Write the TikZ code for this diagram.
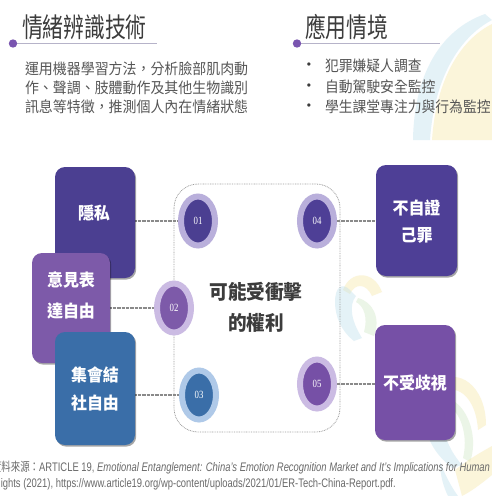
\documentclass[tikz,border=0pt]{standalone}
\usepackage{fontspec}
\setmainfont{Liberation Sans}
\newfontfamily\cjk{Noto Sans CJK TC}
\newfontfamily\numfont{Liberation Serif}
\usetikzlibrary{shapes.geometric,shadows,backgrounds}

\definecolor{indigoA}{HTML}{4B3F91}
\definecolor{purpleA}{HTML}{7D5AA9}
\definecolor{blueA}{HTML}{3A6EA8}
\definecolor{indigoB}{HTML}{4E3F96}
\definecolor{purpleB}{HTML}{7650A6}
\definecolor{ringIndigo}{HTML}{B9AFDB}
\definecolor{ringPurple}{HTML}{CBBBE3}
\definecolor{ringBlue}{HTML}{AFC9E8}
\definecolor{titlegray}{HTML}{3C3C3C}
\definecolor{bodygray}{HTML}{565656}
\definecolor{rulegray}{HTML}{B6B3C9}
\definecolor{dotpurple}{HTML}{7A55B0}
\definecolor{linkgray}{HTML}{8A8A8A}
\definecolor{notegray}{HTML}{6A6A6A}
\definecolor{wmyellow}{HTML}{F6E6A4}
\definecolor{wmblue}{HTML}{BDE0EC}
\definecolor{wmgreen}{HTML}{CFE7C4}

\newcommand\narrow[2]{\scalebox{#1}[1]{#2}}

\begin{document}
\begin{tikzpicture}[x=1pt,y=-1pt,
  every node/.style={inner sep=0pt, outer sep=0pt},
  headline/.style={anchor=west, text=titlegray, font=\cjk\fontsize{27}{30}\selectfont},
  bodyline/.style={anchor=west, text=bodygray, font=\cjk\fontsize{15}{17}\selectfont},
  bulletmark/.style={text=titlegray, font=\fontsize{12}{12}\selectfont},
  rbox/.style={rectangle, rounded corners=10pt, minimum width=80pt,
    drop shadow={shadow xshift=1.2pt, shadow yshift=-1.6pt, fill=black, opacity=.35}},
  boxtext/.style={text=white, font=\cjk\bfseries\fontsize{17}{20}\selectfont},
  ring/.style={ellipse, minimum width=34pt, minimum height=49pt, line width=6pt, text=white,
    font=\numfont\fontsize{11}{11}\selectfont},
  link/.style={draw=linkgray, line width=1.3pt, dash pattern=on 0.7pt off 0.6pt},
  frame/.style={draw=linkgray!85, line width=0.8pt, dash pattern=on 0.8pt off 0.9pt, rounded corners=24pt},
  rule/.style={draw=rulegray, line width=1.8pt},
  wm/.style={opacity=.4},
  note/.style={text=notegray, font=\fontsize{12.4}{14}\selectfont},
]
\useasboundingbox (0,0) rectangle (492,496);
\clip (0,0) rectangle (492,496);

% --- headings with their rules ---
\node[headline] (h1) at (22,27) {\narrow{0.77}{情緒辨識技術}};
\draw[rule] (13,43.5) -- (157,43.5);
\fill[dotpurple] (13,43.5) circle (4.2pt);
\node[bodyline] (b1) at (25,69) {\narrow{0.93}{運用機器學習方法，分析臉部肌肉動}};
\node[bodyline] (b2) at (25,88) {\narrow{0.93}{作、聲調、肢體動作及其他生物識別}};
\node[bodyline] (b3) at (25,107) {\narrow{0.93}{訊息等特徵，推測個人內在情緒狀態}};

\node[headline] (h2) at (305,27) {\narrow{0.77}{應用情境}};
\draw[rule] (297,43.5) -- (440,43.5);
\fill[dotpurple] (297,43.5) circle (4.2pt);
\node[bulletmark] (d1) at (309,66) {•};
\node[bulletmark] (d2) at (309,87) {•};
\node[bulletmark] (d3) at (309,107) {•};
\node[bodyline] (u1) at (325,66) {\narrow{0.92}{犯罪嫌疑人調查}};
\node[bodyline] (u2) at (325,87) {\narrow{0.92}{自動駕駛安全監控}};
\node[bodyline] (u3) at (325,107) {\narrow{0.92}{學生課堂專注力與行為監控}};

% --- rights boxes (stacked on the left) ---
\node[rbox, fill=indigoA, minimum height=111pt] (privacy) at (95,222.5) {};
\node[boxtext] (privacy-t) at (94,213) {\narrow{0.94}{隱私}};

\node[rbox, fill=purpleA, minimum width=78pt, minimum height=110pt] (speech) at (71,308) {};
\node[boxtext] (speech-t1) at (71,280) {\narrow{0.94}{意見表}};
\node[boxtext] (speech-t2) at (71,311) {\narrow{0.94}{達自由}};

\node[rbox, fill=blueA, minimum height=113pt] (assembly) at (95,388.5) {};
\node[boxtext] (assembly-t1) at (95,375) {\narrow{0.94}{集會結}};
\node[boxtext] (assembly-t2) at (95,403) {\narrow{0.94}{社自由}};

% --- rights boxes on the right ---
\node[rbox, fill=indigoB, minimum width=81pt, minimum height=111pt] (selfinc) at (416.5,220.5) {};
\node[boxtext] (selfinc-t1) at (416.5,208) {\narrow{0.94}{不自證}};
\node[boxtext] (selfinc-t2) at (416.5,235) {\narrow{0.94}{己罪}};

\node[rbox, fill=purpleB, minimum height=115pt] (nodisc) at (415,382.5) {};
\node[boxtext] (nodisc-t) at (415,383) {\narrow{0.94}{不受歧視}};

% --- numbered markers ---
\node[ring, fill=indigoA, draw=ringIndigo] (c01) at (198,221) {\narrow{0.8}{01}};
\node[ring, fill=purpleA, draw=ringPurple] (c02) at (174,308) {\narrow{0.8}{02}};
\node[ring, fill=blueA, draw=ringBlue] (c03) at (199,395) {\narrow{0.8}{03}};
\node[ring, fill=indigoB, draw=ringIndigo] (c04) at (317,221) {\narrow{0.8}{04}};
\node[ring, fill=purpleB, draw=ringPurple] (c05) at (317,384) {\narrow{0.8}{05}};

% --- central caption ---
\node[text=titlegray, font=\cjk\bfseries\fontsize{20}{22}\selectfont] (core1) at (256,292) {\narrow{0.93}{可能受衝擊}};
\node[text=titlegray, font=\cjk\bfseries\fontsize{20}{22}\selectfont] (core2) at (256,323) {\narrow{0.93}{的權利}};

% --- source note ---
\node[note, anchor=east] (src1) at (490,468) {\narrow{0.76}{\cjk 資料來源：\rmfamily ARTICLE 19, \itshape Emotional Entanglement: China's Emotion Recognition Market and It's Implications for Human}};
\node[note, anchor=west] (src2) at (-6,484) {\narrow{0.76}{Rights (2021), https://www.article19.org/wp-content/uploads/2021/01/ER-Tech-China-Report.pdf.}};

\begin{scope}[on background layer]
  \fill[white] (0,0) rectangle (492,496);
  % faint decorative bands
  \fill[wmblue, wm] (413,140) .. controls (414,75) and (440,30) .. (485,14) -- (492,20) .. controls (458,38) and (434,80) .. (430,140) -- cycle;
  \fill[wmyellow, wm] (432,140) .. controls (436,80) and (460,40) .. (492,24) -- (492,140) -- cycle;
  \fill[wmyellow, wm] (343,290) .. controls (350,270) and (374,270) .. (382,292) -- (372,296) .. controls (366,283) and (355,283) .. (350,294) -- cycle;
  \fill[wmblue, wm] (335,302) .. controls (335,287) and (342,282) .. (350,290) -- (356,296) .. controls (348,306) and (352,322) .. (362,338) -- (354,341) .. controls (341,331) and (335,316) .. (335,302) -- cycle;
  \fill[wmgreen, wm] (358,298) .. controls (373,302) and (381,318) .. (374,336) -- (364,332) .. controls (368,318) and (364,306) .. (356,302) -- cycle;
  \fill[wmyellow, wm] (437,383) .. controls (458,366) and (486,386) .. (486,425) -- (478,430) .. controls (476,398) and (458,384) .. (444,392) -- cycle;
  \fill[wmblue, wm] (426,425) .. controls (424,398) and (432,382) .. (443,387) -- (447,395) .. controls (436,405) and (440,440) .. (462,465) -- (452,468) .. controls (436,455) and (427,440) .. (426,425) -- cycle;
  \fill[wmgreen, wm] (452,400) .. controls (470,410) and (478,440) .. (470,462) -- (463,458) .. controls (468,438) and (462,415) .. (450,407) -- cycle;
  \fill[wmyellow, wm] (455,470) .. controls (470,458) and (485,450) .. (492,446) -- (492,475) .. controls (480,485) and (470,492) .. (462,496) -- cycle;
  \fill[wmblue, wm] (440,462) .. controls (445,475) and (452,488) .. (458,496) -- (448,496) .. controls (444,488) and (440,476) .. (440,462) -- cycle;
  % dotted frame around the central caption
  \draw[frame] (174,184) rectangle (340,432);
  % connectors between boxes and markers
  \draw[link] (c01.west -| privacy.east) -- (c01.west);
  \draw[link] (c02.west -| speech.east) -- (c02.west);
  \draw[link] (c03.west -| assembly.east) -- (c03.west);
  \draw[link] (c04.east) -- (c04.east -| selfinc.west);
  \draw[link] (c05.east) -- (c05.east -| nodisc.west);
\end{scope}
\end{tikzpicture}
\end{document}
